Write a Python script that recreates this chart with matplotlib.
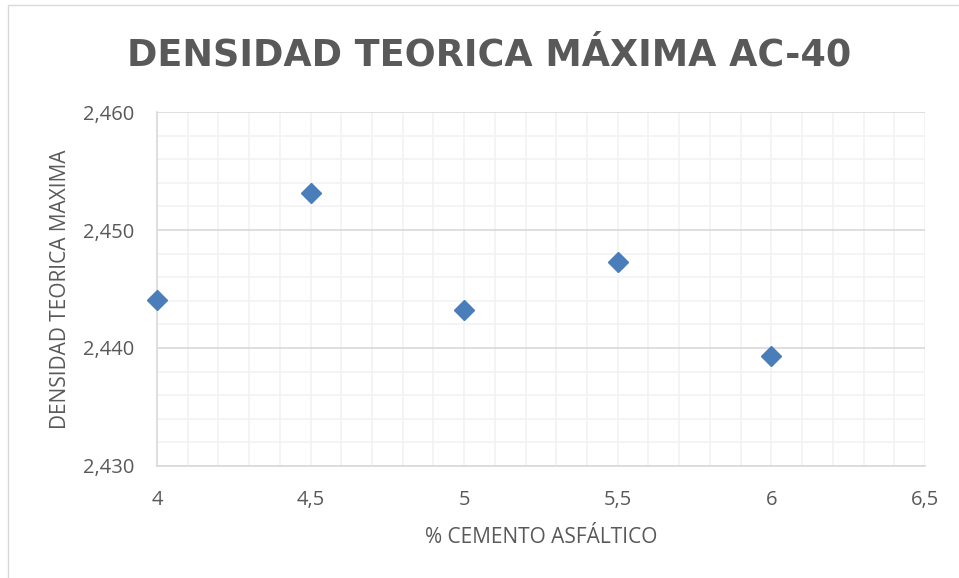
import matplotlib.pyplot as plt
from matplotlib.ticker import MultipleLocator, FuncFormatter

# datos
cemento = [4.0, 4.5, 5.0, 5.5, 6.0]
densidad = [2.4441, 2.4531, 2.4432, 2.4473, 2.4393]

gris = '#595959'

fig = plt.figure(figsize=(9.59, 5.78), dpi=100)
ax = fig.add_axes([0.1637, 0.1938, 0.8008, 0.6124])

ax.plot(cemento, densidad, linestyle='none', marker='D', markersize=10,
        color='#4a7ebb', markeredgecolor='#4a7ebb', zorder=3, clip_on=False)

ax.set_xlim(4, 6.5)
ax.set_ylim(2.430, 2.460)
ax.xaxis.set_major_locator(MultipleLocator(0.5))
ax.xaxis.set_minor_locator(MultipleLocator(0.1))
ax.yaxis.set_major_locator(MultipleLocator(0.01))
ax.yaxis.set_minor_locator(MultipleLocator(0.002))

ax.xaxis.set_major_formatter(FuncFormatter(lambda v, p: f"{v:g}".replace('.', ',')))
ax.yaxis.set_major_formatter(FuncFormatter(lambda v, p: f"{v:.3f}".replace('.', ',')))

ax.grid(which='minor', color='#f2f2f2', linewidth=1.2)
ax.grid(which='major', axis='y', color='#d9d9d9', linewidth=1.2)
ax.grid(which='major', axis='x', color='#f2f2f2', linewidth=1.2)
ax.set_axisbelow(True)

for s in ['top', 'right']:
    ax.spines[s].set_visible(False)
for s in ['left', 'bottom']:
    ax.spines[s].set_color('#d9d9d9')
    ax.spines[s].set_linewidth(1.2)

ax.tick_params(which='both', length=0, colors=gris, labelsize=14.5)
ax.tick_params(axis='x', pad=17)
ax.tick_params(axis='y', pad=16.5)
for lab in ax.get_xticklabels() + ax.get_yticklabels():
    lab.set_fontfamily('Open Sans')

ax.set_xlabel('% CEMENTO ASFÁLTICO', color=gris, fontsize=15, family='Open Sans')
ax.set_ylabel('DENSIDAD TEORICA MAXIMA', color=gris, fontsize=15, family='Open Sans')
ax.xaxis.label.set_va('center')
ax.yaxis.label.set_va('center')
ax.xaxis.set_label_coords(0.5, -0.203)
ax.yaxis.set_label_coords(-0.125, 0.5)

fig.text(0.51, 0.905, 'DENSIDAD TEORICA MÁXIMA AC-40', ha='center', va='center',
         fontsize=26.3, fontweight='bold', color=gris, family='DejaVu Sans')

# borde exterior
fig.patches.append(plt.Rectangle((0.008, -0.01), 1.0, 1.001, transform=fig.transFigure,
                                 fill=False, edgecolor='#d9d9d9', linewidth=1))

fig.savefig('out.png', dpi=100)
